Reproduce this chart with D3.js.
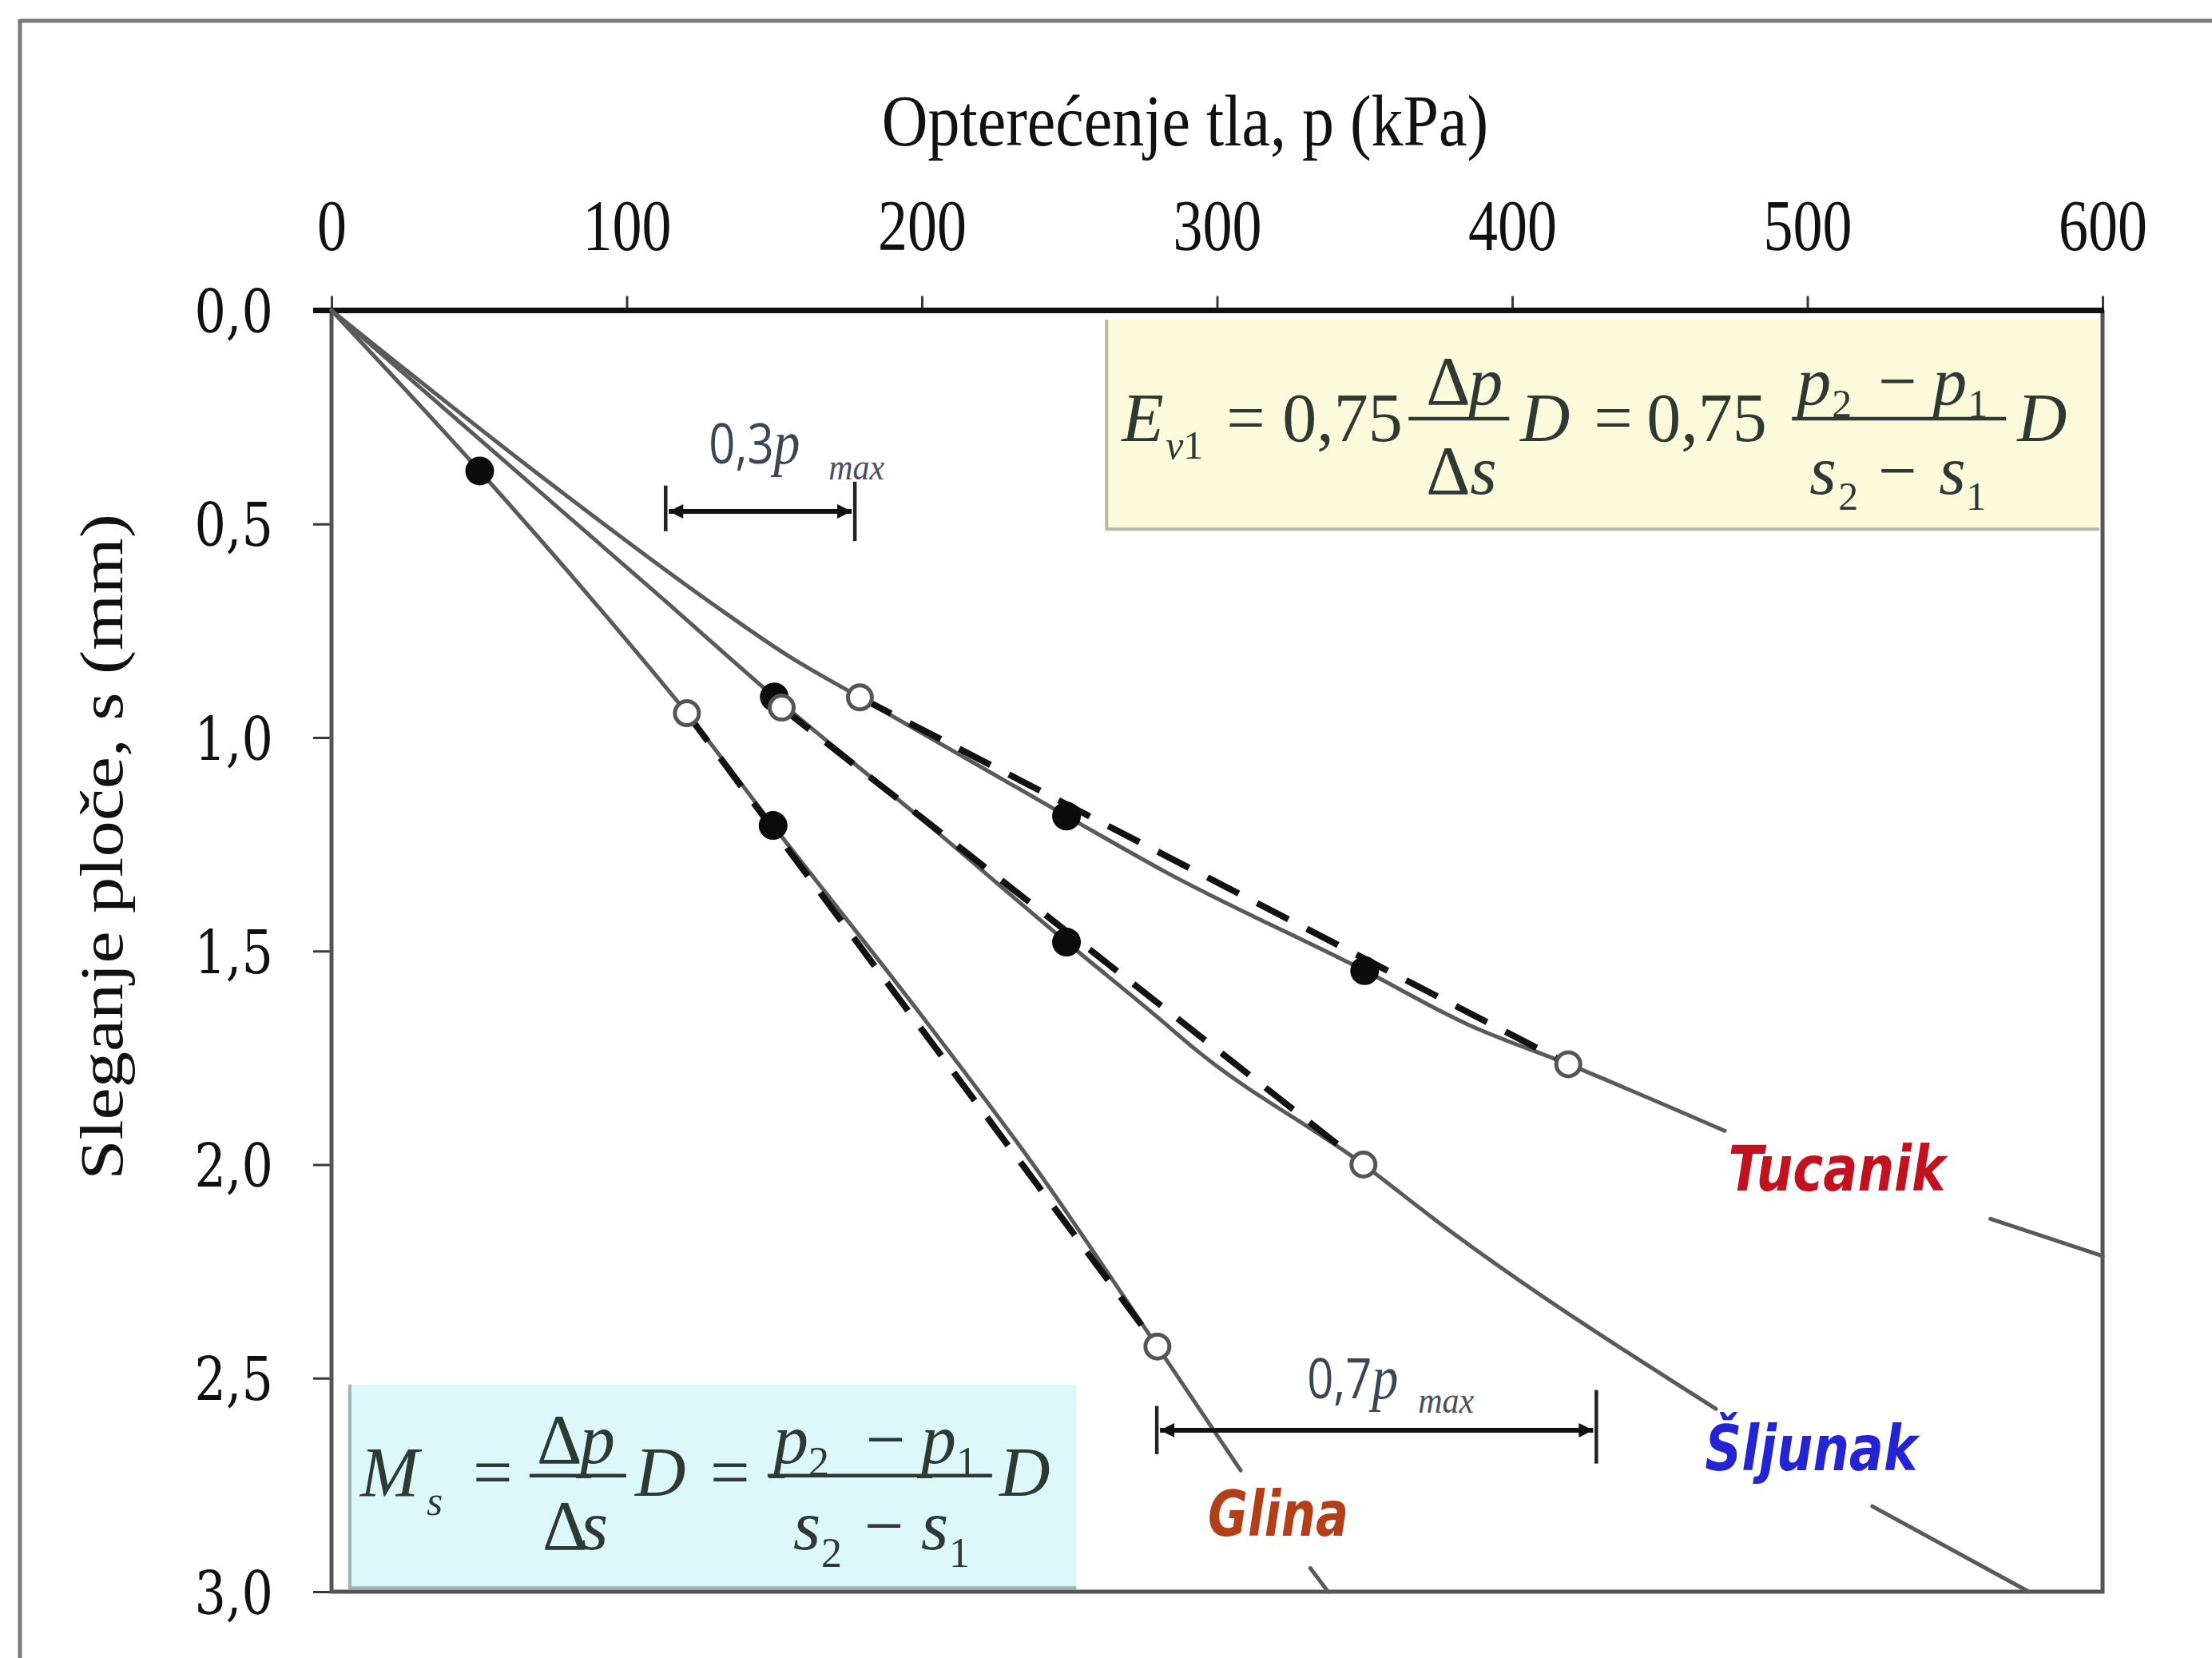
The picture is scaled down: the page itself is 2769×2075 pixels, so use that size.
<!DOCTYPE html>
<html>
<head>
<meta charset="utf-8">
<script src="https://cdn.jsdelivr.net/npm/d3@7"></script>
<style>
  html, body { margin: 0; padding: 0; background: #ffffff; }
  svg { display: block; }
</style>
</head>
<body>
<svg id="chart" width="2769" height="2075"></svg>
<script>
// ---- axis ticks ----
const loadTicks = [0, 100, 200, 300, 400, 500, 600];          // p (kPa)
const settleTicks = [0, 0.5, 1.0, 1.5, 2.0, 2.5, 3.0];         // s (mm)

// ---- load–settlement curves [p (kPa), s (mm)]; null = break in the line around its label ----
const tucanikCurve = [[0, 0], [70, 0.383], [128, 0.682], [155, 0.81], [179, 0.906], [249, 1.184],
  [282.6, 1.315], [350, 1.546], [385, 1.672], [419, 1.765], [472, 1.921], null, [562, 2.127], [600, 2.214]];
const sljunakCurve = [[0, 0], [113, 0.68], [150, 0.905], [201.5, 1.2], [249, 1.479],
  [279, 1.65], [293.7, 1.736], [349.6, 2.0], [375, 2.135], [469, 2.572], null, [522, 2.80], [575, 3.0]];
const glinaCurve = [[0, 0], [50.2, 0.376], [88.9, 0.682], [120.4, 0.943], [149.6, 1.206], [200.9, 1.66],
  [237.2, 1.995], [279.8, 2.426], [308, 2.716], null, [331.6, 2.945], [337.6, 3.0]];

// ---- load steps (filled dots) ----
const tucanikSteps = [[249, 1.184], [350, 1.546]];
const sljunakSteps = [[150, 0.905], [249, 1.479]];
const glinaSteps = [[50.2, 0.376], [149.6, 1.206]];

// ---- readings at 0,3·pmax and 0,7·pmax (open circles, joined by the secant) ----
const tucanikRef = [[179, 0.906], [419, 1.765]];
const sljunakRef = [[152.5, 0.93], [349.6, 2.0]];
const glinaRef = [[120.4, 0.943], [279.8, 2.426]];

const seriesNames = ["Tucanik", "Šljunak", "Glina"];
const seriesColors = ["#c3121f", "#2424d2", "#b23f18"];
// label anchor (centre, baseline) in data units and text width
const labelAt = [[510, 2.061], [501.3, 2.716], [320.7, 2.869]];
const labelWidth = [272, 266, 176];

const svg = d3.select("#chart");
const x = d3.scaleLinear().domain([0, 600]).range([415, 2632]);
const y = d3.scaleLinear().domain([0, 3]).range([388.5, 1992]);

const SERIF = "'Liberation Serif', 'Times New Roman', serif";

// ---- page frame ----
svg.append("line").attr("x1", 25).attr("x2", 2769).attr("y1", 26).attr("y2", 26)
  .attr("stroke", "#7a7a7a").attr("stroke-width", 5);
svg.append("line").attr("x1", 25).attr("x2", 25).attr("y1", 24).attr("y2", 2075)
  .attr("stroke", "#7a7a7a").attr("stroke-width", 5);

// ---- arrowhead for the span markers ----
const defs = svg.append("defs");
defs.append("marker").attr("id", "arrowhead")
  .attr("viewBox", "0 0 10 10").attr("refX", 10).attr("refY", 5)
  .attr("markerUnits", "userSpaceOnUse").attr("markerWidth", 26).attr("markerHeight", 18)
  .attr("orient", "auto-start-reverse")
  .append("path").attr("d", "M0,0 L10,5 L0,10 Z").attr("fill", "#111");

// ---- formula boxes ----
function box(p0, s0, p1, s1, fill, edge) {
  const g = svg.append("g");
  g.append("rect").attr("x", x(p0)).attr("y", y(s0))
    .attr("width", x(p1) - x(p0)).attr("height", y(s1) - y(s0))
    .attr("fill", fill);
  g.append("path")
    .attr("d", `M${x(p0)},${y(s0)} V${y(s1)} H${x(p1)}`)
    .attr("fill", "none").attr("stroke", edge).attr("stroke-width", 4);
  return { g, ox: x(p0), oy: y(s0) };
}

function formula(b, pieces, bars, color) {
  const g = b.g.append("g").attr("transform", `translate(${b.ox},${b.oy})`)
    .attr("fill", color).attr("font-family", SERIF);
  pieces.forEach(([t, dx, dy, size, italic]) => {
    g.append("text").attr("x", dx).attr("y", dy).attr("font-size", size)
      .attr("font-style", italic ? "italic" : "normal").text(t);
  });
  bars.forEach(([x0, x1, yy]) => {
    g.append("line").attr("x1", x0).attr("x2", x1).attr("y1", yy).attr("y2", yy)
      .attr("stroke", color).attr("stroke-width", 4.5);
  });
}

// E_v1 = 0,75 Δp/Δs D = 0,75 (p2 − p1)/(s2 − s1) D
const evBox = box(262.6, 0.0215, 598.9, 0.512, "#fbfbdc", "#b9b9a6");
formula(evBox, [
  ["E", 19, 152, 86, true], ["v", 74, 174, 50, true], ["1", 96, 174, 50, false],
  ["=", 150, 152, 86, false], ["0,75", 220, 152, 86, false],
  ["Δ", 400, 106, 86, false], ["p", 453, 106, 86, true],
  ["Δ", 400, 218, 86, false], ["s", 455, 218, 86, true],
  ["D", 518, 152, 86, true], ["=", 610, 152, 86, false], ["0,75", 676, 152, 86, false],
  ["p", 864, 106, 86, true], ["2", 908, 122, 50, false], ["−", 966, 106, 86, false],
  ["p", 1034, 106, 86, true], ["1", 1078, 122, 50, false],
  ["s", 880, 218, 86, true], ["2", 916, 238, 50, false], ["−", 966, 218, 86, false],
  ["s", 1042, 218, 86, true], ["1", 1076, 238, 50, false],
  ["D", 1140, 152, 86, true]
], [[378, 504, 124], [858, 1126, 124]], "#2f3934");

// M_s = Δp/Δs D = (p2 − p1)/(s2 − s1) D
const msBox = box(6.2, 2.515, 252.3, 2.991, "#dcf8fb", "#9fb3b6");
formula(msBox, [
  ["M", 13, 139, 88, true], ["s", 96, 163, 52, true], ["=", 154, 139, 88, false],
  ["Δ", 234, 98, 88, false], ["p", 288, 98, 88, true],
  ["Δ", 241, 206, 88, false], ["s", 289, 206, 88, true],
  ["D", 357, 139, 88, true], ["=", 451, 139, 88, false],
  ["p", 530, 98, 88, true], ["2", 574, 114, 52, false], ["−", 646, 98, 88, false],
  ["p", 715, 98, 88, true], ["1", 759, 114, 52, false],
  ["s", 555, 206, 88, true], ["2", 590, 228, 52, false], ["−", 644, 206, 88, false],
  ["s", 715, 206, 88, true], ["1", 750, 228, 52, false],
  ["D", 813, 139, 88, true]
], [[225, 346, 114], [523, 804, 114]], "#2f3934");

// ---- axes ----
const gx = svg.append("g").attr("transform", `translate(0,${y(0)})`)
  .call(d3.axisTop(x).tickValues(loadTicks).tickSize(18).tickSizeOuter(0).tickFormat(d3.format("d")));
gx.select(".domain").remove();
gx.selectAll(".tick line").attr("stroke", "#3a3a3a").attr("stroke-width", 3);
gx.selectAll(".tick text").attr("y", 0).attr("dy", null)
  .attr("transform", "translate(0,-76) scale(1,1.22)")
  .attr("font-family", SERIF).attr("font-size", 74).attr("fill", "#111");

const gy = svg.append("g").attr("transform", `translate(${x(0)},0)`)
  .call(d3.axisLeft(y).tickValues(settleTicks).tickSize(23).tickSizeOuter(0)
    .tickFormat(d => d3.format(".1f")(d).replace(".", ",")));
gy.select(".domain").remove();
gy.selectAll(".tick line").attr("stroke", "#3a3a3a").attr("stroke-width", 3);
gy.selectAll(".tick text").attr("x", 0).attr("dy", null)
  .attr("transform", "translate(-73,27) scale(1,1.2)")
  .attr("font-family", "'DejaVu Serif', serif").attr("font-size", 62).attr("fill", "#111");

// plot frame: heavy top axis, grey left/right/bottom
svg.append("path")
  .attr("d", `M${x(0)},${y(0)} V${y(3)} H${x(600)} V${y(0)}`)
  .attr("fill", "none").attr("stroke", "#555").attr("stroke-width", 5);
svg.append("line").attr("x1", x(0) - 23).attr("x2", x(600) + 2).attr("y1", y(0)).attr("y2", y(0))
  .attr("stroke", "#111").attr("stroke-width", 7);

// axis titles
svg.append("text")
  .attr("transform", `translate(${(x(0) + x(600)) / 2 - 40},182) scale(1,1.15)`)
  .attr("text-anchor", "middle").attr("font-family", SERIF).attr("font-size", 80).attr("fill", "#111")
  .text("Opterećenje tla, p (kPa)");
svg.append("text")
  .attr("transform", `translate(153,1060) scale(1,1.19) rotate(-90)`)
  .attr("text-anchor", "middle").attr("font-family", SERIF).attr("font-size", 76).attr("fill", "#111")
  .text("Sleganje ploče, s (mm)");

// ---- curves ----
const curveLine = d3.line().defined(d => d !== null)
  .x(d => x(d[0])).y(d => y(d[1])).curve(d3.curveMonotoneX);
const chord = d3.line().x(d => x(d[0])).y(d => y(d[1]));

const curves = [tucanikCurve, sljunakCurve, glinaCurve];
const steps = [tucanikSteps, sljunakSteps, glinaSteps];
const refs = [tucanikRef, sljunakRef, glinaRef];

const plot = svg.append("g");
curves.forEach(c => {
  plot.append("path").attr("d", curveLine(c))
    .attr("fill", "none").attr("stroke", "#5a5a5a").attr("stroke-width", 5)
    .attr("stroke-linecap", "round");
});
refs.forEach(r => {
  plot.append("path").attr("d", chord(r))
    .attr("fill", "none").attr("stroke", "#111").attr("stroke-width", 8)
    .attr("stroke-dasharray", "44 26");
});
steps.forEach(s => {
  plot.selectAll(null).data(s).enter().append("circle")
    .attr("cx", d => x(d[0])).attr("cy", d => y(d[1])).attr("r", 18).attr("fill", "#0b0b0b");
});
refs.forEach(r => {
  plot.selectAll(null).data(r).enter().append("circle")
    .attr("cx", d => x(d[0])).attr("cy", d => y(d[1])).attr("r", 15)
    .attr("fill", "#fff").attr("stroke", "#555").attr("stroke-width", 5);
});

// ---- series labels ----
seriesNames.forEach((name, i) => {
  svg.append("text")
    .attr("transform", `translate(${x(labelAt[i][0])},${y(labelAt[i][1])}) scale(1,1.25)`)
    .attr("text-anchor", "middle")
    .attr("font-family", "'DejaVu Sans', sans-serif").attr("font-weight", "bold").attr("font-style", "italic")
    .attr("font-size", 62).attr("textLength", labelWidth[i]).attr("lengthAdjust", "spacingAndGlyphs")
    .attr("fill", seriesColors[i]).text(name);
});

// ---- 0,3·pmax and 0,7·pmax spans ----
const spans = [
  { from: 113.2, to: 177.3, s: 0.4705, leftTick: [0.41, 0.517], rightTick: [0.401, 0.54],
    text: "0,3", at: [127.8, 0.358], sub: [168.4, 0.396] },
  { from: 279.6, to: 428.5, s: 2.622, leftTick: [2.565, 2.678], rightTick: [2.528, 2.70],
    text: "0,7", at: [330.5, 2.547], sub: [368.1, 2.581] }
];
spans.forEach(sp => {
  const g = svg.append("g");
  g.append("line").attr("x1", x(sp.from)).attr("x2", x(sp.from))
    .attr("y1", y(sp.leftTick[0])).attr("y2", y(sp.leftTick[1]))
    .attr("stroke", "#222").attr("stroke-width", 4.5);
  g.append("line").attr("x1", x(sp.to)).attr("x2", x(sp.to))
    .attr("y1", y(sp.rightTick[0])).attr("y2", y(sp.rightTick[1]))
    .attr("stroke", "#222").attr("stroke-width", 4.5);
  g.append("line").attr("x1", x(sp.from) + 4).attr("x2", x(sp.to) - 4)
    .attr("y1", y(sp.s)).attr("y2", y(sp.s))
    .attr("stroke", "#111").attr("stroke-width", 6)
    .attr("marker-start", "url(#arrowhead)").attr("marker-end", "url(#arrowhead)");
  const t = g.append("text")
    .attr("transform", `translate(${x(sp.at[0])},${y(sp.at[1])}) scale(1,1.2)`)
    .attr("fill", "#3b4757").attr("font-size", 58);
  t.append("tspan").attr("font-family", "'Open Sans', sans-serif").text(sp.text);
  t.append("tspan").attr("font-family", SERIF).attr("font-style", "italic").attr("font-size", 66).text("p");
  g.append("text")
    .attr("transform", `translate(${x(sp.sub[0])},${y(sp.sub[1])}) scale(1,1.1)`)
    .attr("fill", "#4a4f5a").attr("font-family", SERIF).attr("font-style", "italic")
    .attr("font-size", 42).text("max");
});
</script>
</body>
</html>
